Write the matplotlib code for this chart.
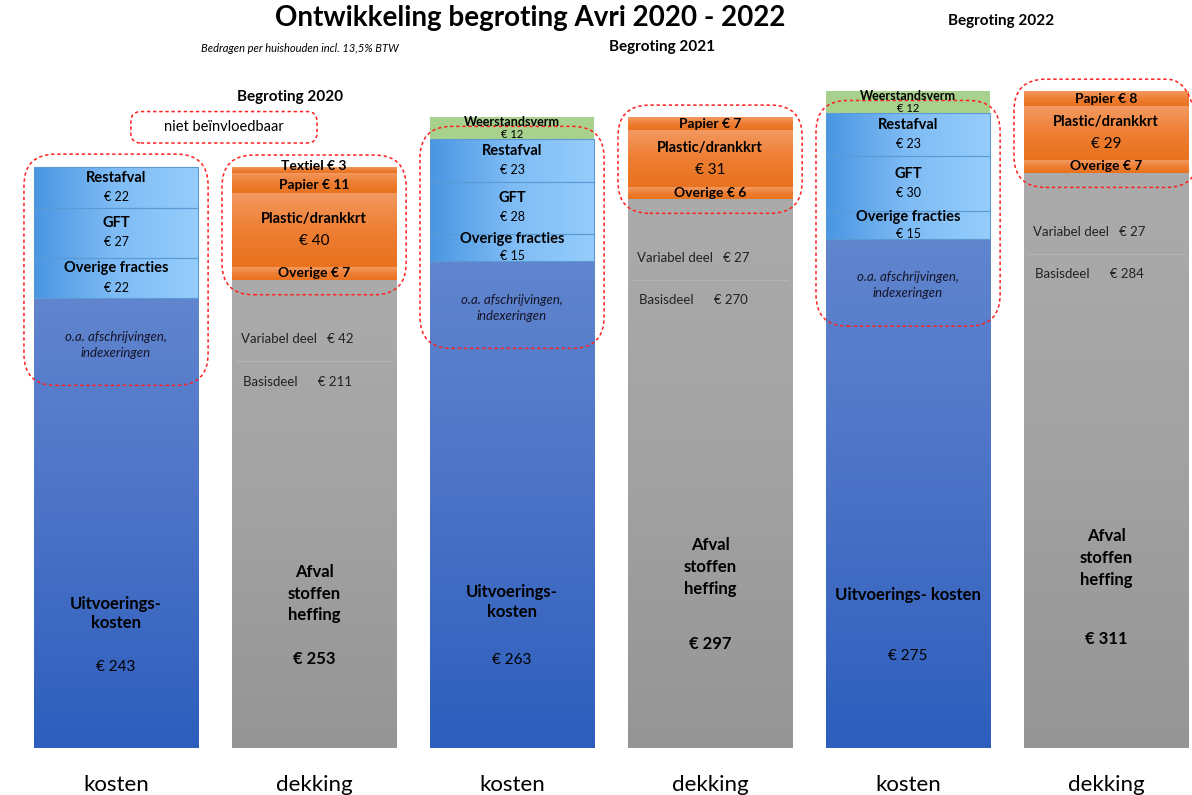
import numpy as np
import matplotlib
matplotlib.use('Agg')
import matplotlib.pyplot as plt
from matplotlib.colors import LinearSegmentedColormap
from matplotlib.patches import FancyBboxPatch

plt.rcParams['font.family'] = ['Lato', 'DejaVu Sans']

# Bedragen per huishouden (EUR)
jaren = ['2020', '2021', '2022']
# kosten
weerstandsverm = [0, 12, 12]
restafval = [22, 23, 23]
gft = [27, 28, 30]
overige_fracties = [22, 15, 15]
uitvoeringskosten = [243, 263, 275]
# dekking
textiel = [3, 0, 0]
papier = [11, 7, 8]
plastic = [40, 31, 29]
overige = [7, 6, 7]
variabel_deel = [42, 27, 27]
basisdeel = [211, 270, 284]
afvalstoffenheffing = [v + b for v, b in zip(variabel_deel, basisdeel)]
categorieen = ['kosten', 'dekking']
uitv_teksten = ['Uitvoerings-\nkosten', 'Uitvoerings-\nkosten', 'Uitvoerings- kosten']

fig = plt.figure(figsize=(11.92, 7.95), dpi=100)
ax = fig.add_axes([0, 0, 1, 1])
xmin, xmax, ymin, ymax = -0.586, 5.434, -25.4, 404.3
px_x = 1192 / (xmax - xmin)
px_y = 795 / (ymax - ymin)
asp = px_x / px_y
B = 0.83
xk = np.arange(3) * 2
xd = xk + 1


def kleurverloop(patch, kleuren, richting='v'):
    x0, y0 = patch.get_x(), patch.get_y()
    w, h = patch.get_width(), patch.get_height()
    if h <= 0:
        return
    cmap = LinearSegmentedColormap.from_list('', kleuren)
    if richting == 'h':
        grad = np.linspace(0, 1, 256).reshape(1, -1)
    else:
        grad = np.linspace(0, 1, 256).reshape(-1, 1)
    im = ax.imshow(grad, extent=(x0, x0 + w, y0, y0 + h), cmap=cmap,
                   aspect='auto', origin='upper', zorder=2,
                   interpolation='bilinear')
    im.set_clip_path(patch)


def label2(x, y, naam, waarde, ns=10.5, ws=9, gap=7):
    ax.annotate(naam, (x, y), xytext=(0, gap), textcoords='offset points',
                ha='center', va='center', fontsize=ns, weight='bold', zorder=6)
    ax.annotate(waarde, (x, y), xytext=(0, -gap), textcoords='offset points',
                ha='center', va='center', fontsize=ws, zorder=6)


def kader(x, y0, y1, w, r=0.16):
    box = FancyBboxPatch((x - w / 2, y0), w, y1 - y0,
                         boxstyle=f'round,pad=0,rounding_size={r}',
                         mutation_aspect=asp, fill=False, edgecolor='#ff2020',
                         linestyle=(0, (2.2, 1.8)), lw=1.1, zorder=5)
    ax.add_patch(box)


blauw_donker = ['#6185ce', '#4a72c6', '#2d5ebd']
blauw_licht = ['#4a96e2', '#7fbcf5', '#96cdfc']
oranje = ['#f39a62', '#ee7e33', '#e8721e']
grijs = ['#ababab', '#a2a2a2', '#959595']

# ---- kosten ----
bars = ax.bar(xk, uitvoeringskosten, width=B, color='#4472c4', lw=0, zorder=1.9)
for p in bars:
    kleurverloop(p, blauw_donker)
bodem = np.array(uitvoeringskosten, dtype=float)
for i in range(3):
    h = uitvoeringskosten[i]
    ax.text(xk[i], h - 25, 'o.a. afschrijvingen,\nindexeringen', ha='center',
            va='center', fontsize=9.5, style='italic', color='#15152a',
            linespacing=1.4, zorder=6)
    ax.text(xk[i], h * 0.30, uitv_teksten[i], ha='center', va='center',
            fontsize=12, weight='bold', linespacing=1.25, zorder=6)
    ax.text(xk[i], h * 0.18, f'€ {h}', ha='center', va='center',
            fontsize=11, zorder=6)

for naam, vals in [('Overige fracties', overige_fracties), ('GFT', gft),
                   ('Restafval', restafval)]:
    bars = ax.bar(xk, vals, bottom=bodem, width=B, color='#7fbcf5', lw=0,
                  zorder=1.9)
    for p in bars:
        kleurverloop(p, blauw_licht, 'h')
    ax.bar(xk, vals, bottom=bodem, width=B, fill=False, edgecolor='#5b9bd5',
           lw=0.8, zorder=2.5)
    for i in range(3):
        label2(xk[i], bodem[i] + vals[i] / 2, naam, f'€ {vals[i]}',
               gap=7 if vals[i] > 18 else 6)
    bodem += vals
top_rest = bodem.copy()

ax.bar(xk, weerstandsverm, bottom=bodem, width=B, color='#a9d18e', lw=0,
       zorder=2)
for i in range(3):
    if weerstandsverm[i] > 0:
        label2(xk[i], bodem[i] + weerstandsverm[i] / 2, 'Weerstandsverm',
               f'€ {weerstandsverm[i]}', ns=9, ws=8, gap=4.6)
top_k = bodem + np.array(weerstandsverm)

for i in range(3):
    kader(xk[i], uitvoeringskosten[i] - 47, top_rest[i] + 7, B + 0.1)

# ---- dekking ----
bars = ax.bar(xd, afvalstoffenheffing, width=B, color='#a5a5a5', lw=0,
              zorder=1.9)
for p in bars:
    kleurverloop(p, grijs)
for i in range(3):
    h = afvalstoffenheffing[i]
    x0 = xd[i] - B / 2 + 0.045
    ax.text(x0, h - 32, f'Variabel deel   € {variabel_deel[i]}', ha='left',
            va='center', fontsize=9.5, color='#222222', zorder=6)
    ax.plot([xd[i] - B / 2 + 0.02, xd[i] + B / 2 - 0.02], [h - 44, h - 44],
            color='#b4b4b4', lw=0.8, zorder=3)
    ax.text(x0 + 0.01, h - 55, f'Basisdeel      € {basisdeel[i]}', ha='left',
            va='center', fontsize=9.5, color='#222222', zorder=6)
    ax.text(xd[i], h * 0.33, 'Afval\nstoffen\nheffing', ha='center',
            va='center', fontsize=12, weight='bold', linespacing=1.45,
            zorder=6)
    ax.text(xd[i], h * 0.19, f'€ {h}', ha='center', va='center',
            fontsize=12, weight='bold', zorder=6)

bodem = np.array(afvalstoffenheffing, dtype=float)
for naam, vals in [('Overige', overige), ('Plastic/drankkrt', plastic),
                   ('Papier', papier), ('Textiel', textiel)]:
    bars = ax.bar(xd, vals, bottom=bodem, width=B, color='#ed7d31', lw=0,
                  zorder=1.9)
    for p in bars:
        kleurverloop(p, oranje)
    for i in range(3):
        if vals[i] <= 0:
            continue
        yc = bodem[i] + vals[i] / 2
        if naam == 'Plastic/drankkrt':
            ax.annotate(naam, (xd[i], yc), xytext=(0, 8),
                        textcoords='offset points', ha='center', va='center',
                        fontsize=10.5, weight='bold', zorder=6)
            ax.annotate(f'€ {vals[i]}', (xd[i], yc), xytext=(0, -8),
                        textcoords='offset points', ha='center', va='center',
                        fontsize=11, zorder=6)
        else:
            dy = 2.5 if vals[i] < 5 else (-1.5 if naam == 'Papier' and textiel[i] else 0)
            ax.annotate(f'{naam} € {vals[i]}', (xd[i], yc), xytext=(0, dy),
                        textcoords='offset points', ha='center', va='center',
                        fontsize=10, weight='bold', zorder=6)
    bodem += vals
top_d = bodem.copy()

for i in range(3):
    kader(xd[i], afvalstoffenheffing[i] - 8, top_d[i] + 6.5, B + 0.1)

# ---- teksten ----
for i, jaar in enumerate(jaren):
    ax.text([0.88, 2.76, 4.47][i], max(top_k[i], top_d[i]) + 38,
            f'Begroting {jaar}', ha='center', va='center', fontsize=11,
            weight='bold')
    ax.text(xk[i], -20, categorieen[0], ha='center', va='center', fontsize=16)
    ax.text(xd[i], -20, categorieen[1], ha='center', va='center', fontsize=16)

kader(0.545, 327, 344, 0.94, r=0.05)
ax.text(0.545, 335.5, 'niet beïnvloedbaar', ha='center', va='center',
        fontsize=10.5, zorder=6)
ax.text(0.93, 378, 'Bedragen per huishouden incl. 13,5% BTW', ha='center',
        va='center', fontsize=8, style='italic')
fig.text(0.445, 1 - 26 / 795, 'Ontwikkeling begroting Avri 2020 - 2022',
         ha='center', va='baseline', fontsize=20, weight='bold')

ax.set_xlim(xmin, xmax)
ax.set_ylim(ymin, ymax)
ax.axis('off')
fig.savefig('out.png', dpi=100)
